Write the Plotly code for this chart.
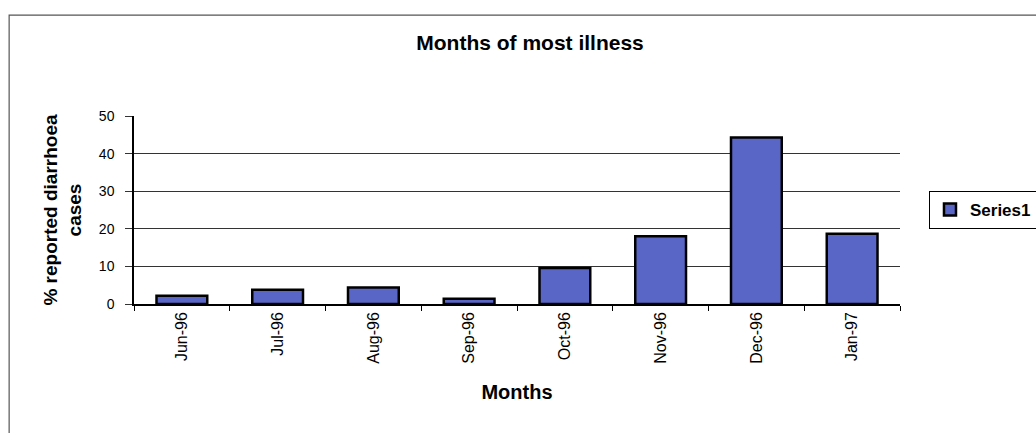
import plotly.graph_objects as go

# Monthly share of reported diarrhoea cases
months = ["Jun-96", "Jul-96", "Aug-96", "Sep-96", "Oct-96", "Nov-96", "Dec-96", "Jan-97"]
percent_cases = [2.2, 3.8, 4.4, 1.4, 9.6, 18.0, 44.3, 18.7]
y_ticks = [0, 10, 20, 30, 40, 50]

font_family = "Liberation Sans, Arial, sans-serif"

fig = go.Figure()
fig.add_trace(go.Bar(
    x=months,
    y=percent_cases,
    name="Series1",
    marker=dict(color="#5A66C6", line=dict(color="#000000", width=2.5)),
    width=0.53,
))

fig.update_layout(
    width=1036,
    height=433,
    margin=dict(l=134, r=136, t=116, b=129),
    paper_bgcolor="white",
    plot_bgcolor="white",
    font=dict(family=font_family, color="#000000"),
    title=dict(
        text="<b>Months of most illness</b>",
        x=0.5116, xref="container", xanchor="center",
        y=0.9007, yref="container", yanchor="middle",
        font=dict(size=21, family=font_family),
    ),
    showlegend=True,
    legend=dict(
        xref="container", yref="container",
        x=0.8967, xanchor="left", y=0.515, yanchor="middle",
        bordercolor="#000000", borderwidth=1,
        font=dict(size=17, family=font_family, weight="bold"),
        itemwidth=30,
        tracegroupgap=0,
    ),
)

fig.update_xaxes(
    type="category",
    showline=True, linecolor="#000000", linewidth=1.5,
    ticks="outside", tickson="boundaries", ticklen=5, tickcolor="#000000",
    tickangle=-90,
    tickfont=dict(size=16, family=font_family),
    title=dict(text="<b>Months</b>", font=dict(size=20, family=font_family), standoff=22),
    showgrid=False,
)

fig.update_yaxes(
    range=[0, 50],
    tickvals=y_ticks,
    showline=True, linecolor="#000000", linewidth=1.5,
    ticks="outside", ticklen=7, tickcolor="#333333",
    ticklabelstandoff=8,
    showgrid=True, gridcolor="#333333", gridwidth=1.3,
    zeroline=False,
    tickfont=dict(size=14, family=font_family),
    title=dict(text="<b>% reported diarrhoea<br>cases</b>", font=dict(size=19, family=font_family), standoff=12),
)

# outer chart frame (top and left edges visible)
fig.add_shape(type="rect", xref="paper", yref="paper",
              x0=-0.163, x1=1.2, y0=-0.75, y1=1.537,
              line=dict(color="#555555", width=1.2), fillcolor="rgba(0,0,0,0)",
              layer="below")

fig.write_html("out.html")
